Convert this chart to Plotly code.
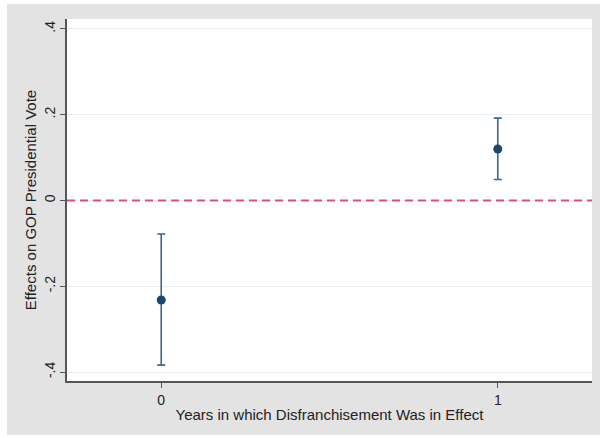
import plotly.graph_objects as go

years = [0, 1]
effects = [-0.232, 0.120]
ci_upper = [-0.078, 0.192]
ci_lower = [-0.384, 0.049]
y_tick_vals = [-0.4, -0.2, 0, 0.2, 0.4]
y_tick_text = ["-.4", "-.2", "0", ".2", ".4"]
x_tick_vals = [0, 1]
x_tick_text = ["0", "1"]

W, H = 600, 438
ml, mr, mt, mb = 67, 8, 19, 57
pw, ph = W - ml - mr, H - mt - mb

def px_x(p):
    return (p - ml) / pw

def px_y(p):
    return 1 - (p - mt) / ph

fig = go.Figure()

fig.add_trace(go.Scatter(
    x=years, y=effects, mode="markers",
    marker=dict(size=9, color="#1a476f"),
    error_y=dict(type="data", symmetric=False,
                 array=[u - e for u, e in zip(ci_upper, effects)],
                 arrayminus=[e - l for e, l in zip(effects, ci_lower)],
                 color="#3b6690", thickness=1.6, width=4),
    showlegend=False,
))

fig.add_hline(y=0, line=dict(color="#e0506e", width=2, dash="8px,5px"))

gray = "#e3e3e3"
shapes = [
    dict(type="rect", xref="paper", yref="paper", x0=px_x(0), x1=px_x(7), y0=px_y(H), y1=px_y(0),
         fillcolor="white", line=dict(width=0), layer="below"),
    dict(type="rect", xref="paper", yref="paper", x0=px_x(0), x1=px_x(W), y0=px_y(4), y1=px_y(0),
         fillcolor="white", line=dict(width=0), layer="below"),
    dict(type="rect", xref="paper", yref="paper", x0=px_x(0), x1=px_x(W), y0=px_y(H), y1=px_y(435),
         fillcolor="white", line=dict(width=0), layer="below"),
]
for s in shapes:
    fig.add_shape(**s)

font_family = "Liberation Sans, Arial, sans-serif"
fig.update_layout(
    width=W, height=H,
    margin=dict(l=ml, r=mr, t=mt, b=mb, autoexpand=False),
    paper_bgcolor=gray, plot_bgcolor="white",
    font=dict(family=font_family, size=14, color="#222222"),
    xaxis=dict(range=[-0.28, 1.28], tickvals=x_tick_vals, ticktext=x_tick_text,
               showgrid=False, zeroline=False, showline=True, linecolor="#555555", linewidth=1.5,
               ticks="outside", ticklen=5, tickcolor="#555555", automargin=False,
               title=dict(text="Years in which Disfranchisement Was in Effect", standoff=3,
                          font=dict(size=15, family=font_family)),
               tickfont=dict(size=14, family=font_family)),
    yaxis=dict(range=[-0.421, 0.4233], tickvals=y_tick_vals, ticktext=y_tick_text,
               tickangle=-90, showgrid=True, gridcolor="#e8f1f3", gridwidth=1,
               zeroline=False, showline=True, linecolor="#555555", linewidth=1.5,
               ticks="outside", ticklen=5, tickcolor="#555555", automargin=False,
               title=dict(text="Effects on GOP Presidential Vote", standoff=1,
                          font=dict(size=15, family=font_family)),
               tickfont=dict(size=14, family=font_family)),
)

fig.write_html("out.html", config={"displayModeBar": False},
               post_script="document.body.style.margin='0';")
